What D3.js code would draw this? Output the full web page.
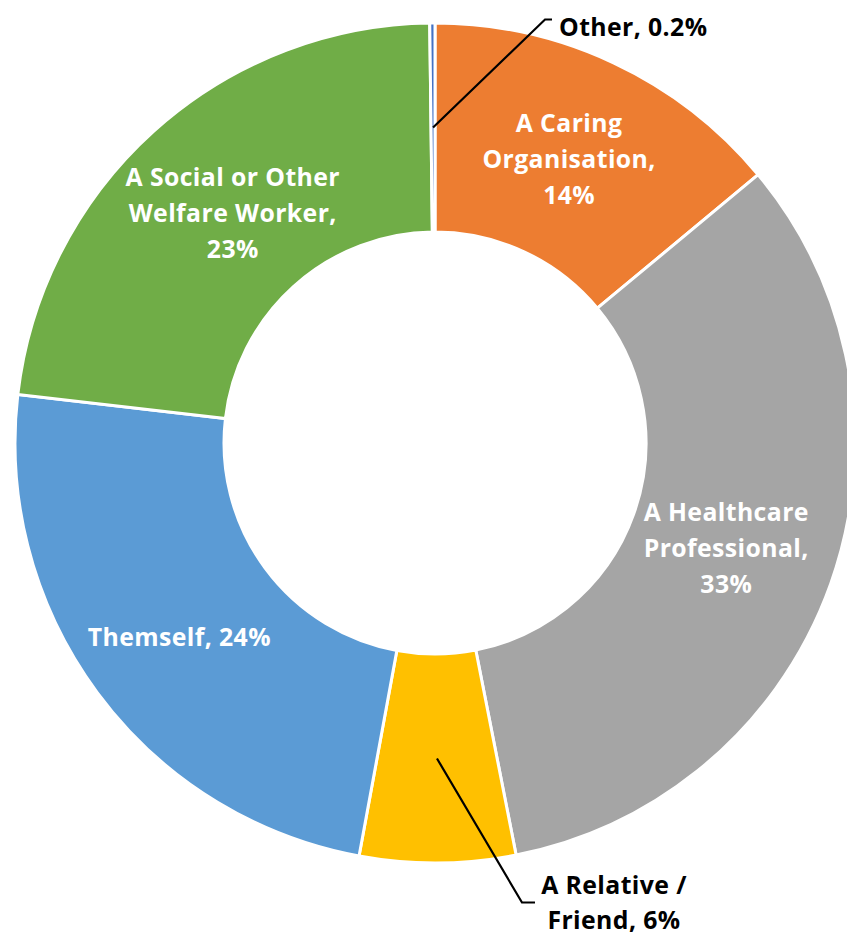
<!DOCTYPE html>
<html>
<head>
<meta charset="utf-8">
<script src="https://cdn.jsdelivr.net/npm/d3@7"></script>
<style>
  html, body { margin: 0; padding: 0; background: #ffffff; }
  svg { display: block; }
  text { font-family: "Open Sans", Lato, sans-serif; font-weight: bold; letter-spacing: 0.4px; }
</style>
</head>
<body>
<script>
// ---- data ----
const categories = ["A Caring Organisation", "A Healthcare Professional", "A Relative / Friend", "Themself", "A Social or Other Welfare Worker", "Other"];
const values = [14, 33, 6, 24, 23, 0.2];
const colors = ["#ED7D31", "#A5A5A5", "#FFC000", "#5B9BD5", "#70AD47", "#4472C4"];
// how each label is wrapped (name lines), and whether the percentage sits on its own line
const nameLines = [["A Caring", "Organisation"], ["A Healthcare", "Professional"], ["A Relative /", "Friend"], ["Themself"], ["A Social or Other", "Welfare Worker"], ["Other"]];
const pctOwnLine = [true, true, false, false, true, false];
const outsideLabel = [false, false, true, false, false, true];

// ---- layout ----
const W = 847, H = 935;
const cx = 435, cy = 443;
const rOuter = 420, rInner = 211;
const lineH = 36;
const fontSize = 24.8;

const svg = d3.select("body").append("svg").attr("width", W).attr("height", H);
const g = svg.append("g").attr("transform", `translate(${cx},${cy})`);

const pie = d3.pie().value(d => d.value).sort(null).startAngle(0).endAngle(2 * Math.PI);
const data = categories.map((c, i) => ({ name: c, value: values[i], color: colors[i], lines: nameLines[i], own: pctOwnLine[i], outside: outsideLabel[i] }));
const arcs = pie(data);

const arc = d3.arc().innerRadius(rInner).outerRadius(rOuter);
const labelArc = d3.arc().innerRadius(rInner).outerRadius(rOuter);

g.selectAll("path.slice").data(arcs).join("path")
  .attr("class", "slice")
  .attr("d", arc)
  .attr("fill", d => d.data.color)
  .attr("stroke", "#ffffff")
  .attr("stroke-width", 3)
  .attr("stroke-linejoin", "miter");

const fmtPct = v => (v < 1 ? v.toFixed(1) : Math.round(v)) + "%";
function labelLines(d) {
  const L = d.data.lines.slice();
  const p = fmtPct(d.data.value);
  if (d.data.own) { L[L.length - 1] += ","; L.push(p); }
  else { L[L.length - 1] += ", " + p; }
  return L;
}

// small nudges of inside labels from the centroid
const insideNudge = { "A Caring Organisation": [0, 2], "A Healthcare Professional": [-6, 0], "Themself": [-2, 7], "A Social or Other Welfare Worker": [9, 5] };

// outside label placements relative to the slice centroid (leader corner offset, text offset)
const outsidePlacement = {
  "A Relative / Friend": { corner: [85, 144], end: [98, 144], text: [177, 144], anchor: "middle" },
  "Other": { corner: [112, -108], end: [119, -108], text: [126, -100], anchor: "start" }
};

arcs.forEach(d => {
  const [x0, y0] = labelArc.centroid(d);
  const lines = labelLines(d);
  if (!d.data.outside) {
    const n = insideNudge[d.data.name] || [0, 0];
    const x = x0 + n[0], y = y0 + n[1];
    const t = g.append("text")
      .attr("text-anchor", "middle")
      .attr("fill", "#ffffff")
      .attr("font-size", fontSize);
    lines.forEach((ln, i) => {
      t.append("tspan")
        .attr("x", x)
        .attr("y", y + (i - (lines.length - 1) / 2) * lineH)
        .attr("dy", "0.35em")
        .text(ln);
    });
  } else {
    const p = outsidePlacement[d.data.name];
    const x = x0, y = y0;
    g.append("path")
      .attr("d", d3.line()([[x, y], [x + p.corner[0], y + p.corner[1]], [x + p.end[0], y + p.end[1]]]))
      .attr("fill", "none")
      .attr("stroke", "#000000")
      .attr("stroke-width", 2.2);
    const t = g.append("text")
      .attr("text-anchor", p.anchor)
      .attr("fill", "#000000")
      .attr("font-size", fontSize);
    const tx = x + p.text[0], ty = y + p.text[1];
    lines.forEach((ln, i) => {
      t.append("tspan")
        .attr("x", tx)
        .attr("y", ty + (i - (lines.length - 1) / 2) * (lineH - 1))
        .attr("dy", "0.35em")
        .text(ln);
    });
  }
});
</script>
</body>
</html>
